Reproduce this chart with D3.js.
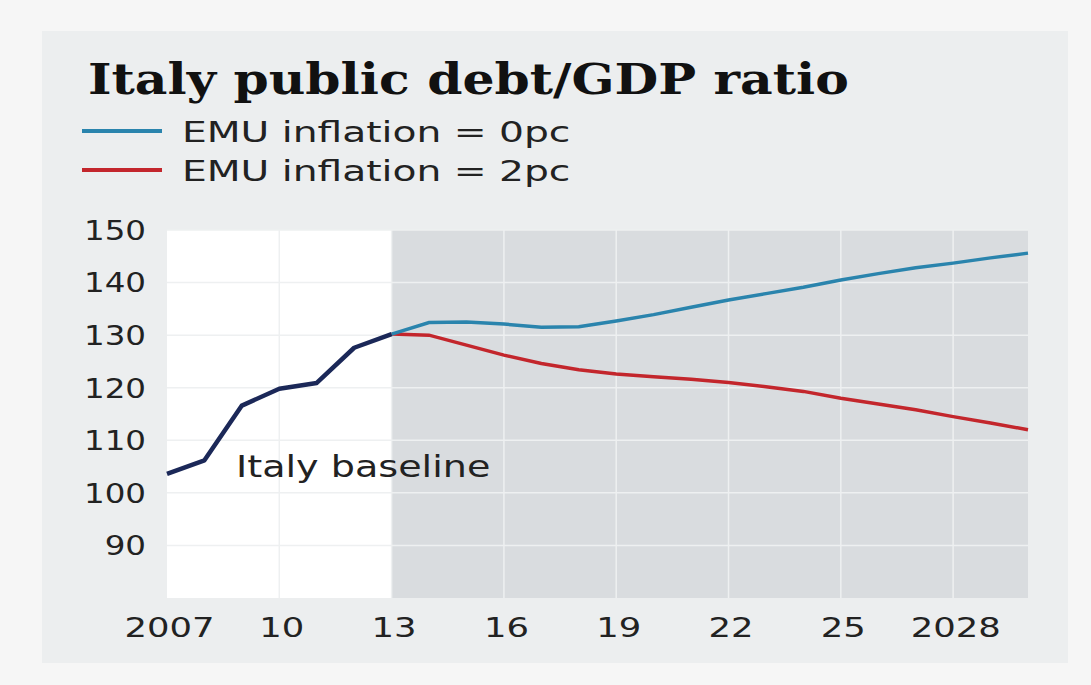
<!DOCTYPE html>
<html>
<head>
<meta charset="utf-8">
<script src="https://cdn.jsdelivr.net/npm/d3@7"></script>
<style>
  body { margin: 0; background: #f6f6f6; }
  svg { display: block; }
  .tick-label { font-family: "DejaVu Sans", sans-serif; fill: #222; }
</style>
</head>
<body>
<svg id="chart" width="1091" height="685"></svg>
<script>
// data
const baselineYears = [2007, 2008, 2009, 2010, 2011, 2012, 2013]
const baselineValues = [103.6, 106.2, 116.6, 119.8, 120.9, 127.6, 130.2]

const projYears = [2013, 2014, 2015, 2016, 2017, 2018, 2019, 2020, 2021, 2022,
  2023, 2024, 2025, 2026, 2027, 2028, 2029, 2030]
const inflation0 = [130.2, 132.4, 132.5, 132.1, 131.5, 131.6, 132.7, 133.9, 135.3, 136.7,
  137.9, 139.1, 140.5, 141.7, 142.8, 143.7, 144.7, 145.6]
const inflation2 = [130.2, 130.0, 128.1, 126.2, 124.6, 123.4, 122.6, 122.1, 121.6, 121.0,
  120.2, 119.3, 118.0, 116.9, 115.8, 114.5, 113.3, 112.0]

const yTicks = [90, 100, 110, 120, 130, 140, 150]
const xTicks = [2007, 2010, 2013, 2016, 2019, 2022, 2025, 2028]
const xTickLabels = ['2007', '10', '13', '16', '19', '22', '25', '2028']

const legendLabels = ['EMU inflation = 0pc', 'EMU inflation = 2pc']
const colors = { base: '#1b2858', zero: '#2a84ad', two: '#c3262c' }

// the original sans is much wider than DejaVu, so stretch glyphs horizontally
function stretch (sel, k) {
  sel.each(function () {
    let w = this.getComputedTextLength()
    d3.select(this).attr('textLength', w * k).attr('lengthAdjust', 'spacingAndGlyphs')
  })
}

const svg = d3.select('#chart')

// outer panel
svg.append('rect')
  .attr('x', 42).attr('y', 31)
  .attr('width', 1026).attr('height', 632)
  .attr('fill', '#eceeef')

const x = d3.scaleLinear().domain([2007, 2030]).range([167, 1028])
const y = d3.scaleLinear().domain([80, 150]).range([598, 230])

// plot background: white history, grey projection
svg.append('rect')
  .attr('x', x(2007)).attr('y', y(150))
  .attr('width', x(2013) - x(2007)).attr('height', y(80) - y(150))
  .attr('fill', '#ffffff')
svg.append('rect')
  .attr('x', x(2013)).attr('y', y(150))
  .attr('width', x(2030) - x(2013)).attr('height', y(80) - y(150))
  .attr('fill', '#d9dcdf')

// gridlines
let grid = svg.append('g')
grid.selectAll('line.h').data(yTicks).join('line')
  .attr('class', 'h')
  .attr('x1', x(2007)).attr('x2', x(2030))
  .attr('y1', d => y(d)).attr('y2', d => y(d))
  .attr('stroke', '#eef0f1').attr('stroke-width', 1.5)
grid.selectAll('line.v').data(xTicks.filter(d => d > 2007)).join('line')
  .attr('class', 'v')
  .attr('x1', d => x(d)).attr('x2', d => x(d))
  .attr('y1', y(150)).attr('y2', y(80))
  .attr('stroke', '#eef0f1').attr('stroke-width', 1.5)

// axes labels
let yAxis = svg.append('g')
  .attr('transform', `translate(${x(2007) - 21},0)`)
  .call(d3.axisLeft(y).tickValues(yTicks).tickSize(0).tickPadding(0))
yAxis.select('.domain').remove()
yAxis.selectAll('text')
  .attr('class', 'tick-label')
  .attr('font-size', 26)
  .attr('dy', '0.36em')
  .call(stretch, 1.25)

let xAxis = svg.append('g')
  .attr('transform', `translate(2,${y(80)})`)
  .call(d3.axisBottom(x).tickValues(xTicks).tickFormat((d, i) => xTickLabels[i]).tickSize(0).tickPadding(21))
xAxis.select('.domain').remove()
xAxis.selectAll('text')
  .attr('class', 'tick-label')
  .attr('font-size', 26)
  .attr('dy', '0.71em')
  .call(stretch, 1.36)

// lines
let line = d3.line().x(d => x(d[0])).y(d => y(d[1]))
svg.append('path')
  .datum(projYears.map((d, i) => [d, inflation2[i]]))
  .attr('d', line).attr('fill', 'none')
  .attr('stroke', colors.two).attr('stroke-width', 3.5)
svg.append('path')
  .datum(projYears.map((d, i) => [d, inflation0[i]]))
  .attr('d', line).attr('fill', 'none')
  .attr('stroke', colors.zero).attr('stroke-width', 3.5)
svg.append('path')
  .datum(baselineYears.map((d, i) => [d, baselineValues[i]]))
  .attr('d', line).attr('fill', 'none')
  .attr('stroke', colors.base).attr('stroke-width', 4.5)
  .attr('stroke-linejoin', 'round')

svg.append('text')
  .attr('x', 236).attr('y', 477)
  .attr('font-family', 'DejaVu Sans, sans-serif')
  .attr('font-size', 30)
  .attr('fill', '#222')
  .text('Italy baseline')
  .call(stretch, 1.27)

// title
svg.append('text')
  .attr('x', 88).attr('y', 94)
  .attr('font-family', 'DejaVu Serif, serif')
  .attr('font-weight', 'bold')
  .attr('font-size', 42)
  .attr('fill', '#111')
  .text('Italy public debt/GDP ratio')
  .call(stretch, 1.2)

// legend
let legend = svg.append('g')
legend.selectAll('line').data([colors.zero, colors.two]).join('line')
  .attr('x1', 82).attr('x2', 162)
  .attr('y1', (d, i) => 131 + i * 39).attr('y2', (d, i) => 131 + i * 39)
  .attr('stroke', d => d).attr('stroke-width', 4)
legend.selectAll('text').data(legendLabels).join('text')
  .attr('x', 182)
  .attr('y', (d, i) => 142 + i * 39)
  .attr('font-family', 'DejaVu Sans, sans-serif')
  .attr('font-size', 28)
  .attr('fill', '#222')
  .text(d => d)
  .call(stretch, 1.4)
</script>
</body>
</html>
